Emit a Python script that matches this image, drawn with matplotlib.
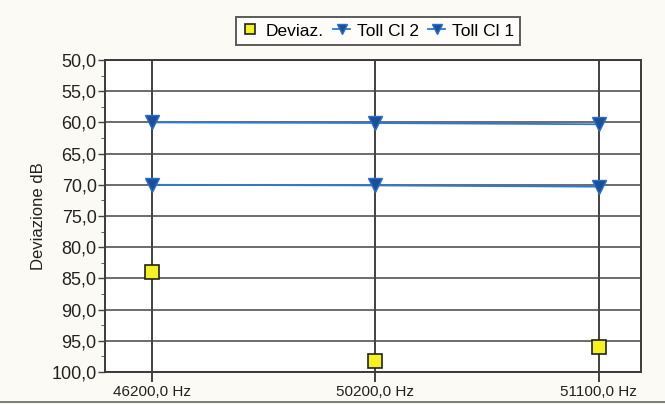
import matplotlib.pyplot as plt
import numpy as np

plt.rcParams['font.family'] = ['Liberation Sans', 'DejaVu Sans']

# Chart data
freqs = ['46200,0 Hz', '50200,0 Hz', '51100,0 Hz']
deviaz = [84.0, 98.2, 96.0]
toll_cl2 = [60.0, 60.1, 60.3]
toll_cl1 = [70.0, 70.1, 70.3]

fig = plt.figure(figsize=(6.65, 4.05), dpi=100, facecolor='#fbfaf4')
ax = fig.add_axes([105 / 665, 1 - 372 / 405, 536 / 665, 312 / 405])
ax.set_facecolor('white')

x = np.arange(len(freqs))

# vertical category lines
for xi in x:
    ax.axvline(xi, color='#333333', lw=1.3, zorder=1)

ax.plot(x, toll_cl2, color='#2a7ad6', lw=1.3, marker='v', ms=10,
        mfc='#1b4f9a', mec='#2a6fc8', label='Toll Cl 2', zorder=3)
ax.plot(x, toll_cl1, color='#2a7ad6', lw=1.3, marker='v', ms=10,
        mfc='#1b4f9a', mec='#2a6fc8', label='Toll Cl 1', zorder=3)
ax.plot(x, deviaz, ls='none', marker='s', ms=10, mfc='#f5f222',
        mec='#222222', mew=1.2, label='Deviaz.', zorder=4)

ax.set_xlim(-0.21, 2.19)
ax.set_ylim(100, 50)
yt = np.arange(50, 101, 5)
ax.set_yticks(yt)
ax.set_yticklabels([f'{v:.1f}'.replace('.', ',') for v in yt], fontsize=13,
                   color='#222222')
ax.set_yticks(np.arange(52.5, 100, 5), minor=True)
ax.set_xticks(x)
ax.set_xticklabels(freqs, fontsize=11, color='#222222')
ax.tick_params(axis='y', length=5, width=1.0, color='#444444', pad=1)
ax.tick_params(axis='y', which='minor', length=3, color='#444444')
ax.tick_params(axis='x', length=7, width=1.3, color='#333333', pad=2)
ax.grid(axis='y', which='major', color='#444444', lw=1.1, zorder=0)

for s in ax.spines.values():
    s.set_color('#3a3a3a')
    s.set_linewidth(1.4)

ax.set_ylabel('Deviazione dB', fontsize=12, color='#222222', labelpad=4)

handles, labels = ax.get_legend_handles_labels()
order = [2, 0, 1]
leg = fig.legend([handles[i] for i in order], [labels[i] for i in order],
                 loc='center', bbox_to_anchor=(378 / 665, 1 - 31 / 405), ncol=3,
                 fontsize=12.5, frameon=True, fancybox=False, edgecolor='#333333',
                 handlelength=1.0, handletextpad=0.4, columnspacing=0.5,
                 borderpad=0.35, markerscale=0.7)
leg.get_frame().set_linewidth(1.4)

# scan frame line at the bottom
fig.add_artist(plt.Line2D([0, 1], [1 - 402 / 405] * 2, color='#666666', lw=1.2))

fig.savefig('out.png', dpi=100, facecolor=fig.get_facecolor())
